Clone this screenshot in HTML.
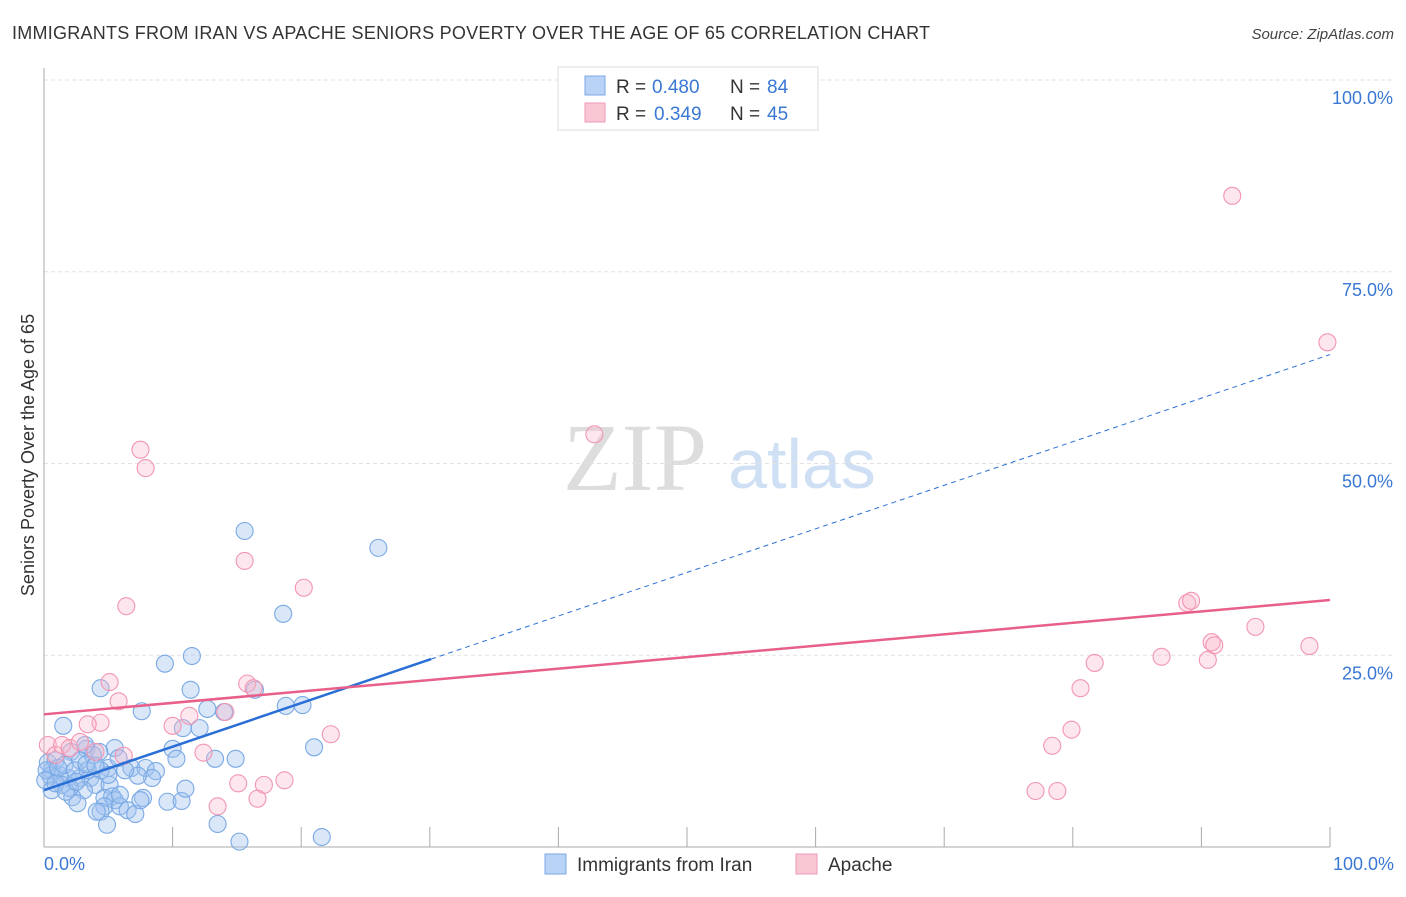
<!DOCTYPE html>
<html><head><meta charset="utf-8"><style>
body{margin:0;background:#fff;font-family:"Liberation Sans",sans-serif;}
svg text{font-family:"Liberation Sans",sans-serif;}
</style></head><body>
<svg id="chart" width="1406" height="892" xmlns="http://www.w3.org/2000/svg">
<text x="12" y="39" font-size="18" fill="#333" textLength="918">IMMIGRANTS FROM IRAN VS APACHE SENIORS POVERTY OVER THE AGE OF 65 CORRELATION CHART</text>
<text x="1394" y="39" font-size="15" fill="#444" font-style="italic" text-anchor="end">Source: ZipAtlas.com</text>
<g>
<text x="635" y="490" font-size="96" fill="#ddd" style="font-family:'Liberation Serif',serif" text-anchor="middle">ZIP</text>
<text x="802" y="488" font-size="70" fill="#cfe0f4" text-anchor="middle">atlas</text>
</g>
<g id="grid"></g>
<g id="axes"></g>
<g id="pts"></g>
<g id="trends"></g>
<text x="34" y="455" font-size="18" fill="#333" text-anchor="middle" transform="rotate(-90 34 455)">Seniors Poverty Over the Age of 65</text>
<text x="44" y="870" font-size="18" fill="#3a78d4">0.0%</text>
<text x="1394" y="870" font-size="18" fill="#3a78d4" text-anchor="end">100.0%</text>
<g>
<rect x="558" y="67" width="260" height="63" fill="#fff" stroke="#ddd"/>
<rect x="585" y="76" width="20" height="19" fill="#b8d3f5" stroke="#7aa7e3"/>
<rect x="585" y="103" width="20" height="19" fill="#f9c6d4" stroke="#ee9ab3"/>
<text x="616" y="93" font-size="19" fill="#333">R =</text>
<text x="652" y="93" font-size="19" fill="#3a78d4">0.480</text>
<text x="730" y="93" font-size="19" fill="#333">N =</text>
<text x="767" y="93" font-size="19" fill="#3a78d4">84</text>
<text x="616" y="120" font-size="19" fill="#333">R =</text>
<text x="654" y="120" font-size="19" fill="#3a78d4">0.349</text>
<text x="730" y="120" font-size="19" fill="#333">N =</text>
<text x="767" y="120" font-size="19" fill="#3a78d4">45</text>
</g>
<g>
<rect x="545" y="854" width="21" height="20" fill="#b8d3f5" stroke="#7aa7e3"/>
<text x="577" y="871" font-size="19" fill="#333">Immigrants from Iran</text>
<rect x="796" y="854" width="21" height="20" fill="#f9c6d4" stroke="#ee9ab3"/>
<text x="828" y="871" font-size="19" fill="#333">Apache</text>
</g>
</svg>
<script>
const yTicks=[25,50,75,100];
const yTickLabels=["25.0%","50.0%","75.0%","100.0%"];
const xTicks=[0,10,20,30,40,50,60,70,80,90,100];
const blueX=[15.6,26.0,18.6,9.4,11.5,4.4,11.4,16.4,7.6,12.7,14.0,18.8,20.1,1.5,10.8,12.1,10.0,10.3,14.9,13.3,21.0,5.5,3.3,4.3,2.1,2.8,5.0,6.8,7.9,8.7,8.4,7.3,0.6,1.2,1.9,2.8,3.6,4.4,0.3,0.9,1.6,2.4,4.0,5.1,3.1,2.2,2.6,4.7,5.3,5.5,4.7,4.4,5.9,6.5,7.1,7.7,9.6,10.7,11.0,4.1,4.9,13.5,15.2,21.6,0.5,0.2,1.1,1.4,2.0,3.4,3.8,3.2,5.9,7.5,0.1,0.6,0.9,1.7,2.5,3.3,4.0,5.0,5.8,6.3];
const blueY=[41.2,39.0,30.4,23.9,24.9,20.7,20.5,20.5,17.7,18.0,17.6,18.4,18.5,15.8,15.5,15.5,12.8,11.5,11.5,11.5,13.0,12.9,12.8,12.4,12.4,11.3,10.3,10.3,10.3,9.9,9.0,9.3,10.0,9.4,9.0,9.0,9.0,10.0,11.0,11.3,10.7,10.0,8.1,8.1,7.4,6.5,5.7,6.4,6.6,6.1,5.3,4.6,5.3,4.8,4.3,6.4,5.9,6.0,7.6,4.6,2.9,3.0,0.7,1.3,9.3,10.0,10.3,8.1,7.7,10.0,12.0,13.3,6.8,6.1,8.7,7.4,8.3,7.2,8.5,10.8,10.6,9.4,11.6,10.0];
const pinkX=[92.4,99.8,42.8,7.5,7.9,15.6,20.2,6.4,88.9,89.2,94.2,90.8,91.0,98.4,81.7,86.9,90.5,80.6,5.1,15.8,5.8,16.3,14.1,11.3,10.0,4.4,3.4,79.9,78.4,22.3,12.4,6.2,77.1,78.8,15.1,17.1,18.7,13.5,16.6,0.3,0.9,1.4,2.0,2.8,4.0];
const pinkY=[84.9,65.8,53.8,51.8,49.4,37.3,33.8,31.4,31.8,32.1,28.7,26.7,26.3,26.2,24.0,24.8,24.4,20.7,21.5,21.3,19.0,20.7,17.6,17.1,15.8,16.2,16.0,15.3,13.2,14.7,12.3,11.9,7.3,7.3,8.3,8.1,8.7,5.3,6.3,13.3,12.0,13.3,12.9,13.7,12.4];
const blueTrend=[7.4,64.2];
const blueSolidEnd=30.1;
const pinkTrend=[17.3,32.2];

const NS="http://www.w3.org/2000/svg";
const X=v=>44+v*12.86;
const Y=v=>847-v*7.67;
function mk(tag,attrs,parent){const e=document.createElementNS(NS,tag);for(const k in attrs)e.setAttribute(k,attrs[k]);document.getElementById(parent).appendChild(e);return e;}
yTicks.forEach((t,i)=>{
  const l=mk('line',{x1:44,x2:1394,y1:Y(t),y2:Y(t),stroke:'#e2e2e2','stroke-dasharray':'4,3'},'grid');
  
  
  const tx=mk('text',{x:1393,y:Y(t)+24,'font-size':18,fill:'#3a78d4','text-anchor':'end'},'grid');
  tx.textContent=yTickLabels[i];
  
  
});
const ya=mk('line',{x1:44,x2:44,y1:68,y2:847,stroke:'#aaa'},'axes');


const xa=mk('line',{x1:44,x2:1330,y1:847,y2:847,stroke:'#aaa'},'axes');


xTicks.forEach(t=>{
  const l=mk('line',{x1:X(t),x2:X(t),y1:827,y2:847,stroke:'#aaa'},'axes');
  
  
});
blueX.forEach((v,i)=>{
  const c=mk('circle',{cx:X(v),cy:Y(blueY[i]),r:8.5,fill:'rgba(160,196,240,0.4)',stroke:'#7aa9e4','stroke-width':1.1},'pts');
  
  
});
pinkX.forEach((v,i)=>{
  const c=mk('circle',{cx:X(v),cy:Y(pinkY[i]),r:8.5,fill:'rgba(248,184,204,0.35)',stroke:'#f296b2','stroke-width':1.1},'pts');
  
  
});
const bAt=x=>blueTrend[0]+(blueTrend[1]-blueTrend[0])*x/100;
const b1=mk('line',{x1:X(0),y1:Y(bAt(0)),x2:X(blueSolidEnd),y2:Y(bAt(blueSolidEnd)),stroke:'#2a6fd6','stroke-width':2.5},'trends');


const b2=mk('line',{x1:X(blueSolidEnd),y1:Y(bAt(blueSolidEnd)),x2:X(100),y2:Y(bAt(100)),stroke:'#2a6fd6','stroke-width':1,'stroke-dasharray':'5,4'},'trends');


const p1=mk('line',{x1:X(0),y1:Y(pinkTrend[0]),x2:X(100),y2:Y(pinkTrend[1]),stroke:'#e8608a','stroke-width':2.5},'trends');


</script>
</body></html>
